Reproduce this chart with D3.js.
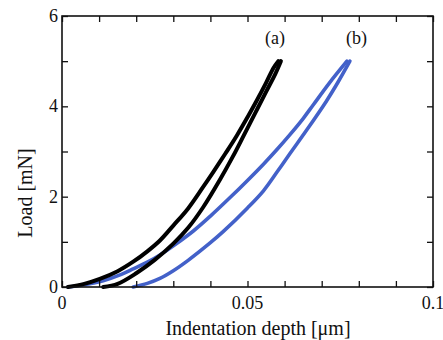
<!DOCTYPE html>
<html><head><meta charset="utf-8">
<script src="https://cdn.jsdelivr.net/npm/d3@7"></script>
<style>body{margin:0;background:#fff}svg{display:block}text{font-family:"Liberation Serif","Times New Roman",serif;fill:#111}</style>
</head><body><svg id="c" width="443" height="340"></svg>
<script>
const aLoadX = [0.0016,0.0060,0.0102,0.0150,0.0192,0.0230,0.0264,0.0300,0.0340,0.0380,0.0408,0.0440,0.0471,0.0500,0.0525,0.0550,0.0570,0.0583];
const aLoadY = [0.00,0.07,0.18,0.35,0.56,0.79,1.03,1.36,1.74,2.21,2.55,2.95,3.35,3.76,4.13,4.52,4.85,5.00];
const aUnloadX = [0.0111,0.0150,0.0201,0.0250,0.0300,0.0340,0.0380,0.0426,0.0460,0.0489,0.0520,0.0550,0.0575,0.0590];
const aUnloadY = [0.00,0.07,0.31,0.60,0.96,1.31,1.76,2.38,2.88,3.34,3.84,4.32,4.72,5.00];
const bLoadX = [0.0016,0.0060,0.0111,0.0160,0.0192,0.0230,0.0264,0.0305,0.0354,0.0400,0.0453,0.0500,0.0543,0.0580,0.0615,0.0650,0.0677,0.0720,0.0768];
const bLoadY = [0.00,0.05,0.14,0.28,0.40,0.55,0.71,0.94,1.24,1.57,1.98,2.36,2.72,3.05,3.38,3.73,4.03,4.51,5.00];
const bUnloadX = [0.0192,0.0230,0.0264,0.0300,0.0340,0.0400,0.0435,0.0500,0.0543,0.0580,0.0615,0.0660,0.0713,0.0745,0.0776];
const bUnloadY = [0.00,0.08,0.19,0.36,0.59,0.98,1.23,1.75,2.13,2.55,2.96,3.48,4.12,4.55,5.00];
const xTickLabels = [0, 0.05, 0.1];
const yTickLabels = [0, 2, 4, 6];
const curveLabels = [{t:"(a)", x:0.0574, y:5.38}, {t:"(b)", x:0.0794, y:5.38}];

const svg = d3.select("#c");
const L=62, R=433, T=16, B=287;
const x = d3.scaleLinear().domain([0,0.1]).range([L,R]);
const y = d3.scaleLinear().domain([0,6]).range([B,T]);

const line = d3.line().x(d=>x(d[0])).y(d=>y(d[1])).curve(d3.curveCatmullRom.alpha(0.5));
const zip=(a,b)=>a.map((v,i)=>[v,b[i]]);
const blue="#4361c9";
[[bLoadX,bLoadY,blue,3.6],[bUnloadX,bUnloadY,blue,3.6],[aLoadX,aLoadY,"#000",4],[aUnloadX,aUnloadY,"#000",4]].forEach(s=>{
  svg.append("path").attr("d",line(zip(s[0],s[1]))).attr("fill","none").attr("stroke",s[2]).attr("stroke-width",s[3]).attr("stroke-linecap","round").attr("stroke-linejoin","round");
});

svg.append("rect").attr("x",L).attr("y",T).attr("width",R-L).attr("height",B-T).attr("fill","none").attr("stroke","#111").attr("stroke-width",1.6);

const fmt = d=> d===0?"0":(d===0.1?"0.1":String(d));
const xt = d3.range(0,0.1001,0.01);
const yt = d3.range(0,6.001,1);
const tickStyle = g=>{g.select(".domain").remove();g.selectAll("line").attr("stroke","#111").attr("stroke-width",1.3);};
svg.append("g").attr("transform",`translate(0,${B})`).call(d3.axisTop(x).tickValues(xt).tickSize(6).tickFormat("")).call(tickStyle);
svg.append("g").attr("transform",`translate(0,${T})`).call(d3.axisBottom(x).tickValues(xt).tickSize(6).tickFormat("")).call(tickStyle);
svg.append("g").attr("transform",`translate(${L},0)`).call(d3.axisRight(y).tickValues(yt).tickSize(6).tickFormat("")).call(tickStyle);
svg.append("g").attr("transform",`translate(${R},0)`).call(d3.axisLeft(y).tickValues(yt).tickSize(6).tickFormat("")).call(tickStyle);

svg.selectAll(".xl").data(xTickLabels).enter().append("text").attr("x",d=>x(d)).attr("y",B+22).attr("text-anchor","middle").attr("font-size",18).text(fmt);
svg.selectAll(".yl").data(yTickLabels).enter().append("text").attr("x",L-4).attr("y",d=>y(d)+6).attr("text-anchor","end").attr("font-size",18).text(d=>d);
svg.append("text").attr("x",258).attr("y",335).attr("text-anchor","middle").attr("font-size",20).text("Indentation depth [μm]");
svg.append("text").attr("transform",`translate(32,193) rotate(-90)`).attr("text-anchor","middle").attr("font-size",20).text("Load [mN]");
svg.selectAll(".cl").data(curveLabels).enter().append("text").attr("x",d=>x(d.x)).attr("y",d=>y(d.y)).attr("text-anchor","middle").attr("font-size",18).text(d=>d.t);
</script></body></html>
